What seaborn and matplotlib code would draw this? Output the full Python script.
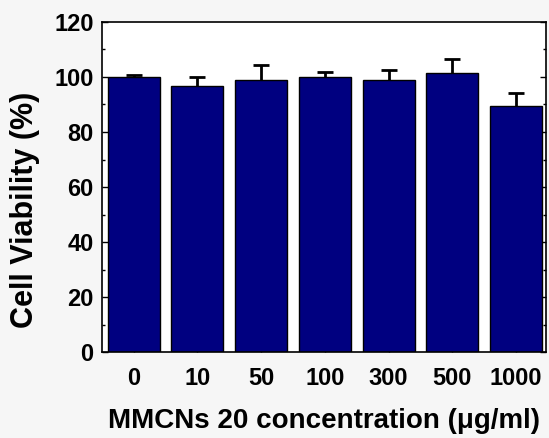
import matplotlib
matplotlib.use("Agg")
import matplotlib.pyplot as plt
import seaborn as sns
import numpy as np
import pandas as pd
from matplotlib.ticker import MultipleLocator

concentrations = ["0", "10", "50", "100", "300", "500", "1000"]
viability = [100.1, 96.8, 98.8, 100.1, 98.9, 101.3, 89.3]
errors = [0.6, 3.1, 5.5, 1.8, 3.5, 5.2, 5.0]

sns.set_theme(style="ticks")
plt.rcParams['font.family'] = ['Liberation Sans', 'DejaVu Sans']
plt.rcParams['font.weight'] = 'bold'
for k in ["text.color", "axes.labelcolor", "xtick.color", "ytick.color", "axes.edgecolor"]:
    plt.rcParams[k] = "black"

df = pd.DataFrame({"conc": concentrations, "via": viability})

fig = plt.figure(figsize=(5.49, 4.38), dpi=100, facecolor="#f6f6f6")
ax = fig.add_axes([0.1858, 0.1963, 0.8087, 0.7535])
ax.set_facecolor("white")

sns.barplot(data=df, x="conc", y="via", order=concentrations, color="#000080",
            saturation=1, width=0.815, edgecolor="black", linewidth=1.0, ax=ax,
            errorbar=None)
x = np.arange(len(concentrations))
eb = ax.errorbar(x, viability, yerr=[np.zeros(len(errors)), errors], fmt="none",
                 ecolor="black", elinewidth=2, capsize=6, capthick=2, zorder=5)
caps = eb[1]
if len(caps) >= 2:
    caps[0].set_visible(False)

ax.set_xlim(-0.496, 6.47)
ax.set_ylim(0, 120)
ax.yaxis.set_major_locator(MultipleLocator(20))
ax.yaxis.set_minor_locator(MultipleLocator(10))
ax.tick_params(axis="both", which="major", direction="in", length=4, width=1,
               labelsize=17, right=True, top=False)
ax.tick_params(axis="y", which="minor", direction="in", length=2, width=1, right=True)
ax.tick_params(axis="x", pad=11)
ax.tick_params(axis="y", pad=6)
for lab in ax.get_xticklabels() + ax.get_yticklabels():
    lab.set_fontweight("bold")
for s in ax.spines.values():
    s.set_visible(True)
    s.set_linewidth(1.2)
    s.set_color("black")

ax.set_xlabel("MMCNs 20 concentration (\u03bcg/ml)", fontsize=20, fontweight="bold", labelpad=13)
ax.set_ylabel("Cell Viability (%)", fontsize=22, fontweight="bold", labelpad=10)
ax.yaxis.label.set_y(0.43)

fig.savefig("out.png", dpi=100, facecolor=fig.get_facecolor())
